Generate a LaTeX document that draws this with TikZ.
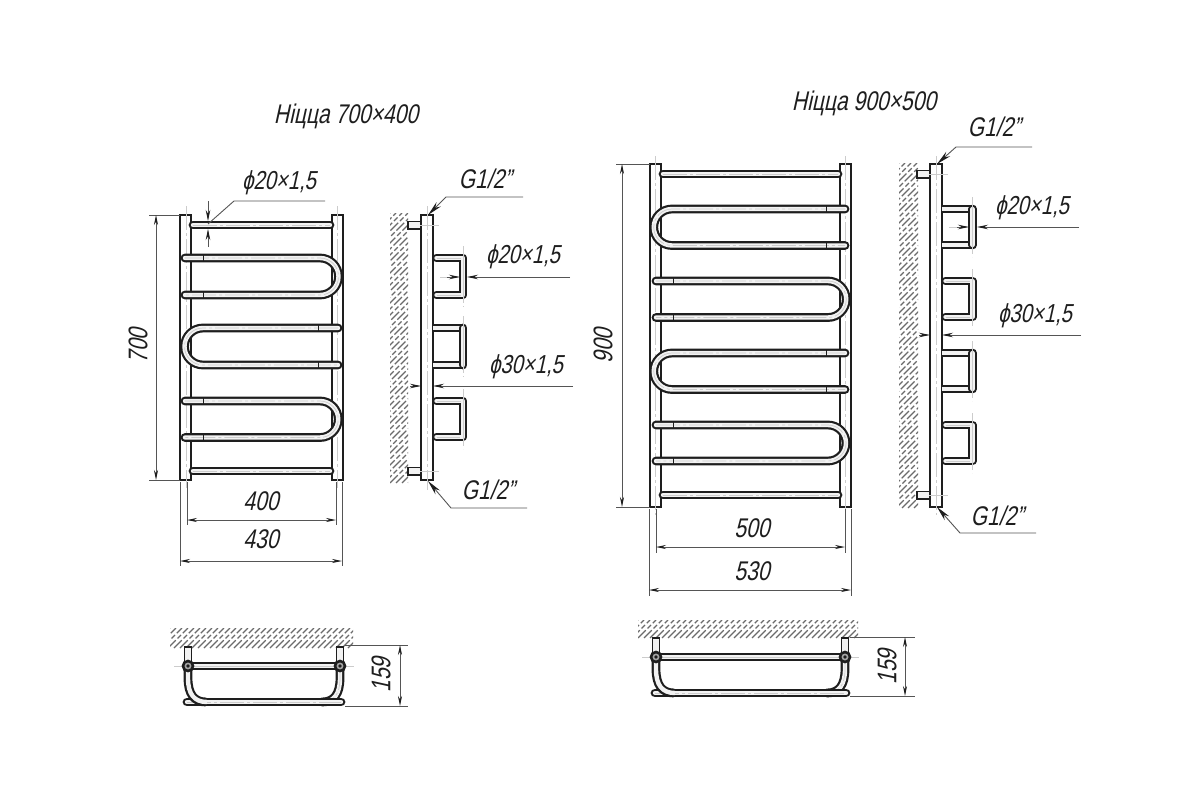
\documentclass[tikz,border=0pt]{standalone}
\usepackage{fontspec}
\setmainfont[FakeSlant=0.22,FakeStretch=0.78]{Liberation Sans}
\usetikzlibrary{arrows.meta}
\definecolor{ink}{HTML}{1E1E1E}
\definecolor{dimc}{HTML}{555555}
\definecolor{railfill}{HTML}{F2F2F2}
\tikzset{
  tubeout/.style={draw=ink,line width=8.8pt,line cap=round,line join=round},
  tubein/.style={draw=railfill,line width=4.4pt,line cap=round,line join=round},
  axisline/.style={draw=black!20,line width=.7pt,dash pattern=on 24pt off 3pt on 3pt off 3pt},
  postline/.style={draw=ink,line width=2.2pt,fill=white},
  dimline/.style={draw=dimc,line width=.9pt},
  dimarrow/.style={dimline,{Stealth[length=10pt,width=4pt,color=ink]}-{Stealth[length=10pt,width=4pt,color=ink]}},
  onearrow/.style={dimline,-{Stealth[length=11pt,width=4.5pt,color=ink]}},
  leader/.style={dimline,{Stealth[length=15pt,width=6pt,color=ink]}-},
  hatchline/.style={draw=black!58,line width=1.1pt,dash pattern=on 11pt off 2.5pt on 5pt off 2.5pt},
  lbl/.style={text=ink,inner sep=0pt,font=\fontsize{27}{27}\selectfont},
  lblsmall/.style={lbl,font=\fontsize{26}{26}\selectfont},
}
% a tube along a path
\newcommand\tube[1]{\draw[tubeout] #1; \draw[tubein] #1; \draw[axisline] #1;}
% U bend closed on the right / on the left: x of bend centre, y1, y2, x of free end, tick x
\newcommand\uright[5]{\pgfmathsetmacro\rr{(#3-#2)/2}
  \tube{(#4,#2) -- (#1,#2) arc[start angle=90,end angle=-90,radius=\rr pt] -- (#4,#3)}
  \draw[draw=ink,line width=1pt] (#5,#2-4) -- (#5,#2+4) (#5,#3-4) -- (#5,#3+4);}
\newcommand\uleft[5]{\pgfmathsetmacro\rr{(#3-#2)/2}
  \tube{(#4,#2) -- (#1,#2) arc[start angle=90,end angle=270,radius=\rr pt] -- (#4,#3)}
  \draw[draw=ink,line width=1pt] (#5,#2-4) -- (#5,#2+4) (#5,#3-4) -- (#5,#3+4);}
% hatch of the wall
\newcommand\hatchbox[4]{\begin{scope}
  \clip (#1,#2) rectangle (#3,#4);
  \pgfmathsetmacro\hh{#4-#2}\pgfmathsetmacro\ww{#3-#1+\hh}
  \pgfmathsetmacro\nx{int(\ww/6)}
  \foreach \i in {0,...,\nx}{\draw[hatchline] (#1-\hh+\i*6,#4) -- ++(\hh,-\hh);}
  \end{scope}}
% side view bracket: free end of the rails x0, centre of the bar x1, y1, y2
\newcommand\capbracket[4]{\tube{(#1,#3) -- (#2,#3) -- (#2,#4) -- (#1,#4)}
  \draw[axisline] (#2,#3-12) -- (#2,#4+12);}
\newcommand\plainbracket[4]{
  \draw[tubeout,line cap=butt] (#1,#3) -- (#2,#3) (#1,#4) -- (#2,#4);
  \draw[tubein,line cap=butt] (#1,#3) -- (#2,#3) (#1,#4) -- (#2,#4);
  \tube{(#2,#3) -- (#2,#4)}
  \draw[axisline] (#2,#3-12) -- (#2,#4+12);}
% top view
\newcommand\topview[4]{%xl,xr,ybar,ybottom
  \draw[postline,line width=1.7pt,fill=railfill] (#1-3.5,#3-19) rectangle (#1+3.5,#3-4);
  \draw[postline,line width=1.7pt,fill=railfill] (#2-3.5,#3-19) rectangle (#2+3.5,#3-4);
  \tube{(#2,#3) -- (#2,#3+12) .. controls (#2,#4-8) and (#2-6,#4) .. (#2-18,#4)}
  \tube{(#1-1,#4) -- (#2+1,#4)}
  \draw[tubeout,line cap=butt] (#1,#3) -- (#1,#3+12) .. controls (#1,#4-8) and (#1+6,#4) .. (#1+18,#4);
  \draw[tubein,line cap=butt] (#1,#3) -- (#1,#3+12) .. controls (#1,#4-8) and (#1+6,#4) .. (#1+19,#4);
  \tube{(#1,#3) -- (#2,#3)}
  \draw[axisline] (#1-14,#3) -- (#2+14,#3);
  \foreach \xx in {#1,#2}{
    \draw[draw=ink,line width=2.6pt,fill=black!35] (\xx,#3) circle[radius=5pt];
    \fill[ink] (\xx,#3) circle[radius=1.8pt];}
}
\begin{document}
\begin{tikzpicture}[x=1pt,y=-1pt]
\useasboundingbox (0,0) rectangle (1200,800);
\fill[white] (0,0) rectangle (1200,800);

%% ---------- 700x400 front
\draw[postline] (180,215) rectangle (191,480);
\draw[postline] (332,215) rectangle (343,480);
\draw[axisline] (186,206) -- (186,488) (337,206) -- (337,488);
\tube{(193,225) -- (330,225)}
\tube{(193,471) -- (330,471)}
\uright{320}{258}{295}{185}{203}
\uleft{203}{328}{365}{338}{318}
\uright{320}{401}{437.5}{185}{203}

%% dimensions 700x400
\draw[dimline] (149,215) -- (180,215) (149,480) -- (180,480);
\draw[dimarrow] (156,215) -- (156,480);
\draw[dimline] (187,482) -- (187,525) (336,482) -- (336,525);
\draw[dimarrow] (187,520) -- (336,520);
\draw[dimline] (180,482) -- (180,566) (342,482) -- (342,566);
\draw[dimarrow] (180,561) -- (342,561);
\draw[onearrow] (208,201) -- (208,221);
\draw[onearrow] (208,247) -- (208,229);
\draw[dimline] (208,224) -- (234,201) -- (325,201);
\node[lbl,rotate=90] (a700) at (138,346) {700};
\node[lbl] (a400) at (261,501) {400};
\node[lbl] (a430) at (261,539) {430};
\node[lblsmall] (a20) at (279,183) {ϕ20×1,5};
\node[lbl] (atitle) at (346,116) {Ніцца 700×400};

%% ---------- 700x400 side
\hatchbox{390}{213}{408}{483}
\draw[postline,line width=1.7pt,fill=railfill] (408,221.5) rectangle (421,229);
\draw[postline,line width=1.7pt,fill=railfill] (408,467.5) rectangle (421,475);
\draw[postline] (421,215) rectangle (433,480);
\draw[axisline] (427,206) -- (427,490);
\draw[axisline] (420,225) -- (439,225) (420,471) -- (439,471);
\capbracket{436.5}{463}{258}{295}
\plainbracket{433}{463}{328}{365}
\capbracket{436.5}{463}{401}{437}
\draw[axisline] (440,277) -- (448,277);
\draw[onearrow] (447,277) -- (460,277);
\draw[onearrow] (570,277) -- (467,277);
\draw[onearrow] (410,386) -- (421,386);
\draw[onearrow] (573,386) -- (433,386);
\draw[leader] (428,215) -- (446,197) -- (523,197);
\draw[leader] (428,481) -- (451,508) -- (527,508);
\node[lbl] (ag1) at (485,179) {G1/2"};
\node[lblsmall] (a20s) at (523,257) {ϕ20×1,5};
\node[lblsmall] (a30s) at (526,367) {ϕ30×1,5};
\node[lbl] (ag2) at (488,490) {G1/2"};

%% ---------- 700x400 top
\hatchbox{170}{628}{353}{648}
\topview{188}{340}{666}{702}
\draw[dimline] (345,645) -- (408,645) (345,706) -- (408,706);
\draw[dimarrow] (400,645) -- (400,706);
\node[lbl,rotate=90] (a159) at (381,675) {159};

%% ---------- 900x500 front
\draw[postline] (650,164) rectangle (661,507);
\draw[postline] (840,164) rectangle (851,507);
\draw[axisline] (655.5,156) -- (655.5,515) (845.5,156) -- (845.5,515);
\tube{(663,174) -- (838,174)}
\tube{(663,495) -- (838,495)}
\uleft{672}{209}{245.5}{845}{826}
\uright{828}{281}{317.5}{656}{673}
\uleft{672}{353}{389.5}{845}{826}
\uright{828}{425}{461}{656}{673}

%% dimensions 900x500
\draw[dimline] (616,164) -- (650,164) (616,507) -- (650,507);
\draw[dimarrow] (622,164) -- (622,507);
\draw[dimline] (656,509) -- (656,553) (845,509) -- (845,553);
\draw[dimarrow] (656,547) -- (845,547);
\draw[dimline] (649,509) -- (649,596) (851,509) -- (851,596);
\draw[dimarrow] (649,590) -- (851,590);
\node[lbl,rotate=90] (b900) at (603,346) {900};
\node[lbl] (b500) at (752,528) {500};
\node[lbl] (b530) at (752,571) {530};
\node[lbl] (btitle) at (864,103) {Ніцца 900×500};

%% ---------- 900x500 side
\hatchbox{899}{163}{918}{508}
\draw[postline,line width=1.7pt,fill=railfill] (917,170.5) rectangle (930,178);
\draw[postline,line width=1.7pt,fill=railfill] (917,491.5) rectangle (930,499);
\draw[postline] (930,164) rectangle (942,507);
\draw[axisline] (936,156) -- (936,515);
\draw[axisline] (929,174) -- (948,174) (929,495) -- (948,495);
\plainbracket{942}{972.5}{209}{245}
\capbracket{945.5}{972.5}{281}{317}
\plainbracket{942}{972.5}{353}{389}
\capbracket{945.5}{972.5}{425}{461}
\draw[axisline] (949,227) -- (957,227);
\draw[onearrow] (957,227) -- (969,227);
\draw[onearrow] (1079,227) -- (977,227);
\draw[onearrow] (919,335) -- (930,335);
\draw[onearrow] (1081,335) -- (942,335);
\draw[leader] (937,164) -- (956,147) -- (1032,147);
\draw[leader] (937,507) -- (960,533) -- (1036,533);
\node[lbl] (bg1) at (994,127) {G1/2"};
\node[lblsmall] (b20s) at (1032,208) {ϕ20×1,5};
\node[lblsmall] (b30s) at (1035,316) {ϕ30×1,5};
\node[lbl] (bg2) at (997,516) {G1/2"};

%% ---------- 900x500 top
\hatchbox{638}{620}{858}{638}
\topview{656}{845}{657}{693}
\draw[dimline] (850,637) -- (915,637) (850,696) -- (915,696);
\draw[dimarrow] (905,637) -- (905,696);
\node[lbl,rotate=90] (b159) at (887,667) {159};
\end{tikzpicture}
\end{document}
